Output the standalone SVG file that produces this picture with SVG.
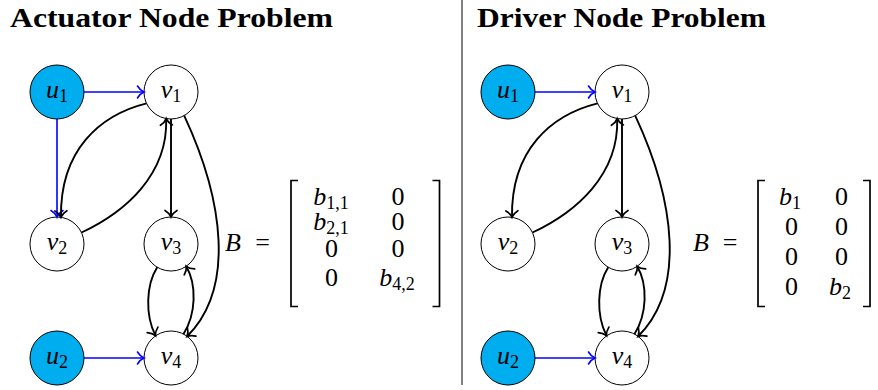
<svg xmlns="http://www.w3.org/2000/svg" width="878" height="390" viewBox="0 0 878 390">
  <style>
    .title { font-family: "Liberation Serif", "Times New Roman", serif; font-weight: bold; font-size: 28px; fill: #000; }
    .m { font-family: "Liberation Serif", "Times New Roman", serif; font-size: 26px; fill: #000; }
    .it { font-style: italic; }
    .sub { font-size: 18px; font-style: normal; }
    .node { fill: #fff; stroke: #000; stroke-width: 1; }
    .input { fill: #00AEEF; stroke: #000; stroke-width: 1; }
    .blue { fill: none; stroke: #0000FF; stroke-width: 1.6; marker-end: url(#arrowBlue); }
    .edge { fill: none; stroke: #000; stroke-width: 1.9; marker-end: url(#arrowBlack); }
    .bracket { fill: none; stroke: #000; stroke-width: 1.7; }
  </style>
  <defs>
    <marker id="arrowBlue" markerUnits="userSpaceOnUse" viewBox="-9 -9 12 18" refX="0" refY="0" markerWidth="12" markerHeight="18" orient="auto" overflow="visible">
      <path d="M -6.5 -6 C -5 -3.5 -2 -0.8 0 0 C -2 0.8 -5 3.5 -6.5 6" fill="none" stroke="#0000FF" stroke-width="1.6" stroke-linecap="round"/>
    </marker>
    <marker id="arrowBlack" markerUnits="userSpaceOnUse" viewBox="-9 -9 12 18" refX="0" refY="0" markerWidth="12" markerHeight="18" orient="auto" overflow="visible">
      <path d="M -6.5 -6 C -5 -3.5 -2 -0.8 0 0 C -2 0.8 -5 3.5 -6.5 6" fill="none" stroke="#000" stroke-width="1.7" stroke-linecap="round"/>
    </marker>
  </defs>

  <rect width="878" height="390" fill="#fff"/>

  <!-- titles and divider -->
  <text class="title" x="10" y="26.5" textLength="323" lengthAdjust="spacingAndGlyphs">Actuator Node Problem</text>
  <text class="title" x="477" y="26.5" textLength="289" lengthAdjust="spacingAndGlyphs">Driver Node Problem</text>
  <line x1="462" y1="0" x2="462" y2="385" stroke="#000" stroke-width="1"/>

  <!-- ===== left panel: actuator nodes ===== -->
  <g id="left-graph">
    <g id="L-u1"><circle class="input" cx="57" cy="92" r="27"/><text class="m" x="57" y="98" text-anchor="middle"><tspan class="it">u</tspan><tspan class="sub" dy="3.5">1</tspan></text></g>
    <g id="L-v1"><circle class="node" cx="171" cy="92" r="27"/><text class="m" x="171" y="98" text-anchor="middle"><tspan class="it">v</tspan><tspan class="sub" dy="3.5">1</tspan></text></g>
    <g id="L-v2"><circle class="node" cx="57" cy="244" r="27"/><text class="m" x="57" y="250" text-anchor="middle"><tspan class="it">v</tspan><tspan class="sub" dy="3.5">2</tspan></text></g>
    <g id="L-v3"><circle class="node" cx="171" cy="244" r="27"/><text class="m" x="171" y="250" text-anchor="middle"><tspan class="it">v</tspan><tspan class="sub" dy="3.5">3</tspan></text></g>
    <g id="L-u2"><circle class="input" cx="57" cy="358" r="27"/><text class="m" x="57" y="364" text-anchor="middle"><tspan class="it">u</tspan><tspan class="sub" dy="3.5">2</tspan></text></g>
    <g id="L-v4"><circle class="node" cx="171" cy="358" r="27"/><text class="m" x="171" y="364" text-anchor="middle"><tspan class="it">v</tspan><tspan class="sub" dy="3.5">4</tspan></text></g>

    <g id="L-connectors">
      <path class="blue" d="M84 92 H144"/>
      <path class="blue" d="M57 119 V217"/>
      <path class="blue" d="M84 358 H144"/>
      <path class="edge" d="M146.6 103.4 C100 115 60 150 61 217.3"/>
      <path class="edge" d="M81.5 232.5 C125 212 168 175 166.2 118.6"/>
      <path class="edge" d="M171 119 V217"/>
      <path class="edge" d="M184.2 115.6 C224 201 235 289 187 336.5"/>
      <path class="edge" d="M157.2 267.2 C146 285 145 315 155.5 335.6"/>
      <path class="edge" d="M183.5 334 C196 314 197 285 186.2 266.3"/>
    </g>
  </g>

  <!-- left input matrix -->
  <g id="L-matrix">
    <text class="m it" x="225" y="250.5">B</text>
    <text class="m" x="262.5" y="250.5" text-anchor="middle">=</text>
    <path class="bracket" d="M298 180.5 H291 V306.5 H298"/>
    <path class="bracket" d="M432.5 180.5 H439.5 V306.5 H432.5"/>
    <text class="m" x="331" y="205" text-anchor="middle"><tspan class="it">b</tspan><tspan class="sub" dy="3.5">1,1</tspan></text>
    <text class="m" x="398" y="205" text-anchor="middle">0</text>
    <text class="m" x="331" y="230" text-anchor="middle"><tspan class="it">b</tspan><tspan class="sub" dy="3.5">2,1</tspan></text>
    <text class="m" x="398" y="230" text-anchor="middle">0</text>
    <text class="m" x="331.5" y="256.5" text-anchor="middle">0</text>
    <text class="m" x="398" y="256.5" text-anchor="middle">0</text>
    <text class="m" x="331.5" y="286" text-anchor="middle">0</text>
    <text class="m" x="397" y="286" text-anchor="middle"><tspan class="it">b</tspan><tspan class="sub" dy="3.5">4,2</tspan></text>
  </g>

  <!-- ===== right panel: driver nodes ===== -->
  <g id="right-graph" transform="translate(451,0)">
    <g id="R-u1"><circle class="input" cx="57" cy="92" r="27"/><text class="m" x="57" y="98" text-anchor="middle"><tspan class="it">u</tspan><tspan class="sub" dy="3.5">1</tspan></text></g>
    <g id="R-v1"><circle class="node" cx="171" cy="92" r="27"/><text class="m" x="171" y="98" text-anchor="middle"><tspan class="it">v</tspan><tspan class="sub" dy="3.5">1</tspan></text></g>
    <g id="R-v2"><circle class="node" cx="57" cy="244" r="27"/><text class="m" x="57" y="250" text-anchor="middle"><tspan class="it">v</tspan><tspan class="sub" dy="3.5">2</tspan></text></g>
    <g id="R-v3"><circle class="node" cx="171" cy="244" r="27"/><text class="m" x="171" y="250" text-anchor="middle"><tspan class="it">v</tspan><tspan class="sub" dy="3.5">3</tspan></text></g>
    <g id="R-u2"><circle class="input" cx="57" cy="358" r="27"/><text class="m" x="57" y="364" text-anchor="middle"><tspan class="it">u</tspan><tspan class="sub" dy="3.5">2</tspan></text></g>
    <g id="R-v4"><circle class="node" cx="171" cy="358" r="27"/><text class="m" x="171" y="364" text-anchor="middle"><tspan class="it">v</tspan><tspan class="sub" dy="3.5">4</tspan></text></g>

    <g id="R-connectors">
      <path class="blue" d="M84 92 H144"/>
      <path class="blue" d="M84 358 H144"/>
      <path class="edge" d="M146.6 103.4 C100 115 60 150 61 217.3"/>
      <path class="edge" d="M81.5 232.5 C125 212 168 175 166.2 118.6"/>
      <path class="edge" d="M171 119 V217"/>
      <path class="edge" d="M184.2 115.6 C224 201 235 289 187 336.5"/>
      <path class="edge" d="M157.2 267.2 C146 285 145 315 155.5 335.6"/>
      <path class="edge" d="M183.5 334 C196 314 197 285 186.2 266.3"/>
    </g>
  </g>

  <!-- right input matrix -->
  <g id="R-matrix">
    <text class="m it" x="693" y="250.5">B</text>
    <text class="m" x="730" y="250.5" text-anchor="middle">=</text>
    <path class="bracket" d="M765 180.5 H758 V306.5 H765"/>
    <path class="bracket" d="M863 180.5 H870 V306.5 H863"/>
    <text class="m" x="790" y="205" text-anchor="middle"><tspan class="it">b</tspan><tspan class="sub" dy="3.5">1</tspan></text>
    <text class="m" x="841.5" y="205" text-anchor="middle">0</text>
    <text class="m" x="791.5" y="235" text-anchor="middle">0</text>
    <text class="m" x="841.5" y="235" text-anchor="middle">0</text>
    <text class="m" x="791.5" y="265" text-anchor="middle">0</text>
    <text class="m" x="841.5" y="265" text-anchor="middle">0</text>
    <text class="m" x="791.5" y="295" text-anchor="middle">0</text>
    <text class="m" x="840" y="295" text-anchor="middle"><tspan class="it">b</tspan><tspan class="sub" dy="3.5">2</tspan></text>
  </g>
</svg>
